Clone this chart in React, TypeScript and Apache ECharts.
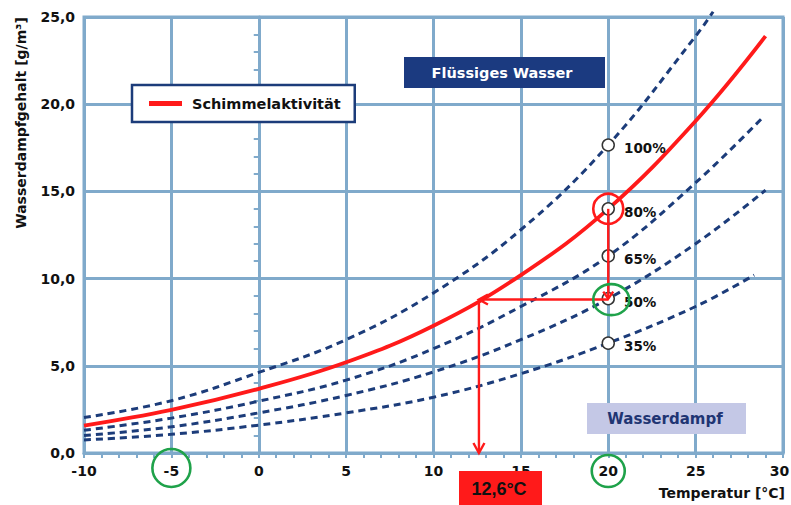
import React, { useEffect, useRef } from "react";
import * as echarts from "echarts";

// ---- Data ----
const temps100 = [-10, -5, 0, 5, 10, 15, 20, 25, 26];
const vapor100 = [2.03, 3.0, 4.62, 6.5, 9.18, 12.8, 17.66, 23.9, 25.3];

const temps80 = [-10, -5, 0, 5, 10, 15, 20, 25, 29];
const vapor80 = [1.57, 2.47, 3.68, 5.2, 7.3, 10.2, 14.0, 19.04, 23.9];

const temps65 = [-10, -5, 0, 5, 10, 15, 20, 25, 28.9];
const vapor65 = [1.3, 2.0, 2.97, 4.18, 5.98, 8.4, 11.3, 15.5, 19.3];

const temps50 = [-10, -5, 0, 5, 10, 15, 20, 25, 29];
const vapor50 = [1.0, 1.5, 2.3, 3.3, 4.65, 6.5, 8.85, 12.0, 15.07];

const temps35 = [-10, -5, 0, 5, 10, 15, 20, 25, 28.35];
const vapor35 = [0.75, 1.07, 1.6, 2.3, 3.2, 4.55, 6.3, 8.4, 10.2];

const humidityLabels = ["100%", "80%", "65%", "50%", "35%"];
const markerTemp = 20;
const dewTemp = 12.6;
const dewVapor = 8.8;
const circledTicks = [-5, 20];

const legendName = "Schimmelaktivität";
const yTitle = "Wasserdampfgehalt [g/m³]";
const xTitle = "Temperatur [°C]";
const liquidLabel = "Flüssiges Wasser";
const vaporLabel = "Wasserdampf";
const dewLabel = "12,6°C";

const FONT = '"DejaVu Sans", "Noto Sans", sans-serif';
const GRID = "#80AACB";
const NAVY = "#1C3C7A";
const RED = "#FF1A1A";
const GREEN = "#1FA24A";
const TEXT = "#111111";

const pairs = (xs: number[], ys: number[]) => xs.map((x, i) => [x, ys[i]]);
const at = (xs: number[], ys: number[], x: number) => ys[xs.indexOf(x)];

export default function App() {
  const ref = useRef<HTMLDivElement>(null);

  useEffect(() => {
    if (!ref.current) return;
    const chart = echarts.init(ref.current, null, { renderer: "svg" });

    const dashed = (name: string, xs: number[], ys: number[]) => ({
      type: "line",
      name,
      data: pairs(xs, ys),
      smooth: 0.4,
      symbol: "none",
      showSymbol: false,
      clip: false,
      silent: true,
      z: 3,
      lineStyle: { color: NAVY, width: 3, type: [7, 5] },
    });

    const markerVals = [
      at(temps100, vapor100, markerTemp),
      at(temps80, vapor80, markerTemp),
      at(temps65, vapor65, markerTemp),
      at(temps50, vapor50, markerTemp),
      at(temps35, vapor35, markerTemp),
    ];

    const axisCommon = {
      axisLine: { show: true, lineStyle: { color: GRID, width: 3 } },
      axisTick: { show: true, length: 5, lineStyle: { color: GRID, width: 2 } },
      minorTick: { show: true, splitNumber: 5, length: 5, lineStyle: { color: GRID, width: 2 } },
      splitLine: { show: true, lineStyle: { color: GRID, width: 3 } },
    };

    chart.setOption({
      animation: false,
      backgroundColor: "#ffffff",
      grid: {
        left: 84,
        right: 8,
        top: 17,
        bottom: 52,
        containLabel: false,
        outerBoundsMode: "none",
        show: true,
        borderColor: GRID,
        borderWidth: 3,
        backgroundColor: "transparent",
      },
      legend: {
        data: [legendName],
        left: 132,
        top: 85,
        selectedMode: false,
        backgroundColor: "#ffffff",
        borderColor: NAVY,
        borderWidth: 2.5,
        borderRadius: 0,
        padding: [11, 14, 11, 17],
        icon: "rect",
        itemWidth: 33,
        itemHeight: 5,
        textStyle: {
          fontFamily: FONT,
          fontWeight: "bold",
          fontSize: 14.5,
          color: TEXT,
          padding: [0, 0, 0, 5],
        },
      },
      xAxis: {
        type: "value",
        min: -10,
        max: 30,
        interval: 5,
        ...axisCommon,
        axisLabel: {
          margin: 11,
          fontFamily: FONT,
          fontWeight: "bold",
          fontSize: 14,
          color: TEXT,
          formatter: (v: number) => (v === 30 ? `{last|${v}}` : `${v}`),
          rich: {
            last: {
              fontFamily: FONT,
              fontWeight: "bold",
              fontSize: 14,
              color: TEXT,
              padding: [0, 7, 0, 0],
            },
          },
        },
      },
      yAxis: {
        type: "value",
        min: 0,
        max: 25,
        interval: 5,
        ...axisCommon,
        axisLabel: {
          margin: 9,
          fontFamily: FONT,
          fontWeight: "bold",
          fontSize: 14,
          color: TEXT,
          formatter: (v: number) => v.toFixed(1).replace(".", ","),
        },
      },
      series: [
        dashed("100%", temps100, vapor100),
        dashed("65%", temps65, vapor65),
        dashed("50%", temps50, vapor50),
        dashed("35%", temps35, vapor35),
        {
          type: "line",
          name: legendName,
          data: pairs(temps80, vapor80),
          smooth: 0.4,
          symbol: "none",
          showSymbol: false,
          silent: true,
          z: 4,
          itemStyle: { color: RED },
          lineStyle: { color: RED, width: 3.8 },
        },
        {
          type: "scatter",
          name: "markers",
          data: markerVals.map((v, i) => ({
            value: [markerTemp, v],
            label: { formatter: humidityLabels[i] },
          })),
          symbol: "circle",
          symbolSize: 12,
          silent: true,
          z: 6,
          itemStyle: { color: "#ffffff", borderColor: "#333333", borderWidth: 1.5, opacity: 1 },
          label: {
            show: true,
            position: "right",
            distance: 9,
            offset: [0, 3],
            fontFamily: FONT,
            fontWeight: "bold",
            fontSize: 13.5,
            color: TEXT,
          },
        },
      ],
    });

    const px = (p: number[]) => chart.convertToPixel({ gridIndex: 0 }, p) as number[];

    const p80 = px([markerTemp, at(temps80, vapor80, markerTemp)]);
    const p50 = px([markerTemp, at(temps50, vapor50, markerTemp)]);
    const pDew = px([dewTemp, dewVapor]);
    const pAxis = px([dewTemp, 0]);

    const redLine = (a: number[], b: number[]) => ({
      type: "line",
      z: 20,
      shape: { x1: a[0], y1: a[1], x2: b[0], y2: b[1] },
      style: { stroke: RED, lineWidth: 2.4 },
    });
    const head = (pts: number[][]) => ({
      type: "polyline",
      z: 20,
      shape: { points: pts },
      style: { stroke: RED, lineWidth: 2.4, fill: null },
    });

    const tick1 = px([circledTicks[0], 0]);
    const tick2 = px([circledTicks[1], 0]);

    chart.setOption({
      graphic: [
        {
          type: "rect",
          z: 10,
          shape: { x: 404, y: 57, width: 201, height: 31 },
          style: { fill: "#1B3A80" },
        },
        {
          type: "text",
          z: 11,
          x: 502,
          y: 73,
          style: {
            text: liquidLabel,
            font: `bold 14.5px ${FONT}`,
            fill: "#ffffff",
            textAlign: "center",
            textVerticalAlign: "middle",
          },
        },
        {
          type: "rect",
          z: 10,
          shape: { x: 587, y: 403, width: 159, height: 31 },
          style: { fill: "#C4C8E6" },
        },
        {
          type: "text",
          z: 11,
          x: 665,
          y: 419,
          style: {
            text: vaporLabel,
            font: `bold 15px ${FONT}`,
            fill: "#1F3573",
            textAlign: "center",
            textVerticalAlign: "middle",
          },
        },
        {
          type: "text",
          z: 11,
          x: 21,
          y: 123,
          rotation: Math.PI / 2,
          style: {
            text: yTitle,
            font: `bold 14px ${FONT}`,
            fill: TEXT,
            textAlign: "center",
            textVerticalAlign: "middle",
          },
        },
        {
          type: "text",
          z: 11,
          x: 785,
          y: 493,
          style: {
            text: xTitle,
            font: `bold 14px ${FONT}`,
            fill: TEXT,
            textAlign: "right",
            textVerticalAlign: "middle",
          },
        },
        {
          type: "rect",
          z: 10,
          shape: { x: 459, y: 471, width: 83, height: 34 },
          style: { fill: RED },
        },
        {
          type: "text",
          z: 11,
          x: 499,
          y: 489,
          style: {
            text: dewLabel,
            font: `bold 18px "Liberation Sans", Arial, sans-serif`,
            fill: "#111111",
            textAlign: "center",
            textVerticalAlign: "middle",
          },
        },
        redLine(p80, [p80[0], p50[1]]),
        head([
          [p80[0] - 5, p50[1] - 7],
          [p80[0], p50[1]],
          [p80[0] + 5, p50[1] - 7],
        ]),
        redLine([p80[0], pDew[1]], pDew),
        head([
          [pDew[0] + 9, pDew[1] - 5],
          [pDew[0], pDew[1]],
          [pDew[0] + 9, pDew[1] + 5],
        ]),
        redLine(pDew, pAxis),
        head([
          [pAxis[0] - 5.5, pAxis[1] - 10],
          [pAxis[0], pAxis[1]],
          [pAxis[0] + 5.5, pAxis[1] - 10],
        ]),
        {
          type: "circle",
          z: 21,
          shape: { cx: p80[0], cy: p80[1], r: 15 },
          style: { stroke: RED, lineWidth: 2.6, fill: null },
        },
        {
          type: "ellipse",
          z: 21,
          shape: { cx: p50[0] + 3, cy: p50[1] + 1, rx: 18, ry: 15.5 },
          style: { stroke: GREEN, lineWidth: 2.6, fill: null },
        },
        {
          type: "ellipse",
          z: 21,
          shape: { cx: tick1[0], cy: tick1[1] + 15, rx: 19, ry: 19 },
          style: { stroke: GREEN, lineWidth: 2.6, fill: null },
        },
        {
          type: "ellipse",
          z: 21,
          shape: { cx: tick2[0], cy: tick2[1] + 18, rx: 16.5, ry: 16 },
          style: { stroke: GREEN, lineWidth: 2.6, fill: null },
        },
      ],
    });

    return () => chart.dispose();
  }, []);

  return (
    <div
      ref={ref}
      style={{ position: "absolute", left: 0, top: 0, width: 791, height: 505 }}
    />
  );
}
